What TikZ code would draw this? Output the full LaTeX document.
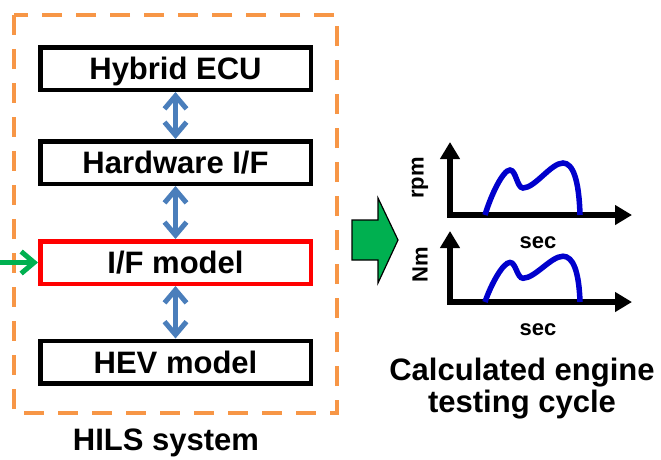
\documentclass[tikz,border=0pt]{standalone}
\usepackage{fontspec}
\setmainfont{Liberation Sans}
\usetikzlibrary{arrows.meta}
\definecolor{hilsorange}{RGB}{247,150,70}
\definecolor{linkblue}{RGB}{74,126,187}
\definecolor{feedgreen}{RGB}{0,176,80}
\definecolor{curveblue}{RGB}{0,0,204}
\tikzstyle{block} = [draw=black, line width=4.5pt, minimum width=270.5pt, minimum height=42.5pt, inner sep=0pt, text height=22pt, text depth=0pt, font=\fontsize{31}{36}\selectfont\bfseries]
\tikzstyle{link} = [draw=linkblue, line width=5pt, barb-barb]
\tikzstyle{feed} = [draw=feedgreen, line width=5pt, -barb]
\tikzstyle{axis} = [draw=black, line width=5.5pt, tri-tri]
\tikzstyle{curve} = [draw=curveblue, line width=5.5pt]
\tikzstyle{unit} = [font=\fontsize{22}{26}\selectfont\bfseries, inner sep=0pt]
\tikzset{barb/.tip={Straight Barb[length=13pt,width=22pt]}, tri/.tip={Triangle[length=17pt,width=19pt]}}
\newcommand{\cyclecurve}[2]{\draw[curve] (485,#1) .. controls (491,{#1-20*#2}) and (503,{#1-45*#2}) .. (510,{#1-45*#2}) .. controls (516,{#1-45*#2}) and (517,{#1-27*#2}) .. (523,{#1-27*#2}) .. controls (535,{#1-27*#2}) and (551,{#1-52*#2}) .. (563,{#1-52*#2}) .. controls (573,{#1-52*#2}) and (579,{#1-35*#2}) .. (580,#1);}

\begin{document}
\begin{tikzpicture}[x=1pt, y=-1pt]
	\useasboundingbox (0,0) rectangle (661,459);
	% HILS system
	\draw[hilsorange, line width=4pt, dash pattern=on 20pt off 14pt] (14,15) rectangle (337,413);
	\node[block] (ecu) at (175.5,68.5) {Hybrid ECU};
	\node[block] (hwif) at (175.5,162.5) {Hardware I/F};
	\node[block, draw=red] (ifmodel) at (175.5,262.5) {I/F model};
	\node[block] (hevmodel) at (175.5,362) {HEV model};
	\draw[link] (ecu.south) -- (hwif.north);
	\draw[link] (hwif.south) -- (ifmodel.north);
	\draw[link] (ifmodel.south) -- (hevmodel.north);
	\coordinate (feedstart) at (0,262.5);
	\draw[feed] (feedstart) -- (ifmodel.west);
	\node[font=\fontsize{31}{36}\selectfont\bfseries, inner sep=0pt] (hilslabel) at (166,443) {HILS system};
	% output
	\fill[feedgreen, draw=black, line width=1.2pt] (352,220) -- (378,220) -- (378,198) -- (398,240) -- (378,283) -- (378,260) -- (352,260) -- cycle;
	\draw[axis] (450,142) -- (450,215) -- (632,215);
	\cyclecurve{215}{1}
	\node[unit, rotate=90] (rpm) at (420,178) {rpm};
	\node[unit] (sectop) at (538,243) {sec};
	\draw[axis] (450,231) -- (450,302) -- (632,302);
	\cyclecurve{302}{0.88}
	\node[unit, rotate=90] (nm) at (420,265) {Nm};
	\node[unit] (secbottom) at (538,330) {sec};
	\node[font=\fontsize{31}{32}\selectfont\bfseries, align=center, inner sep=0pt] (cyclelabel) at (522,389) {Calculated engine\\testing cycle};
\end{tikzpicture}
\end{document}
